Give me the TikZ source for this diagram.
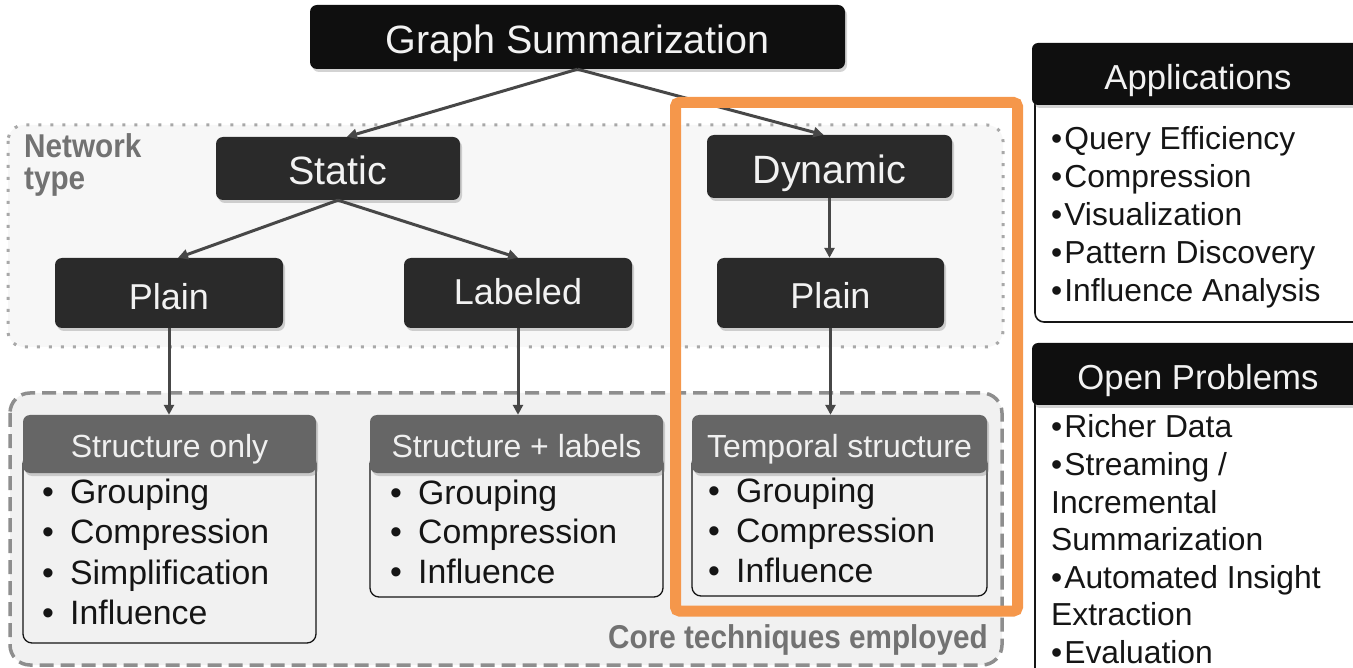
\documentclass[tikz,border=0pt]{standalone}
\usepackage{fontspec}
\setmainfont{Liberation Sans}
\newfontfamily\condfont[FakeStretch=0.9]{Liberation Sans}
\usetikzlibrary{shadows,arrows.meta,calc}

\definecolor{boxdark}{HTML}{2A2A2A}
\definecolor{boxblack}{HTML}{0F0F0F}
\definecolor{hdrgray}{HTML}{666666}
\definecolor{arrowgray}{HTML}{474747}
\definecolor{labelgray}{HTML}{727272}
\definecolor{dotgray}{HTML}{A8A8A8}
\definecolor{dashgray}{HTML}{8E8E8E}
\definecolor{netfill}{HTML}{F7F7F7}
\definecolor{corefill}{HTML}{F1F1F1}
\definecolor{hilite}{HTML}{F5974B}
\definecolor{inktext}{HTML}{151515}

\newcommand\blt{\makebox[28pt][l]{•}}
\newcommand\sblt{•\kern2pt}

\begin{document}
\begin{tikzpicture}[x=1pt,y=-1pt,
  softshadow/.style={drop shadow={opacity=0.35,shadow xshift=2pt,shadow yshift=-3pt}},
  darkbox/.style={rounded corners=7pt, fill=boxdark, text=white!95!black, inner sep=0pt,
    text depth=0pt, font=\fontsize{36}{40}\selectfont, softshadow},
  bigbox/.style={darkbox, font=\fontsize{39.5}{44}\selectfont},
  topbox/.style={bigbox, fill=boxblack},
  hdrbox/.style={rounded corners=7pt, fill=hdrgray, text=white!94!black, inner sep=0pt,
    minimum width=293pt, minimum height=58pt, text height=27.9pt, text depth=0pt,
    font=\fontsize{32}{36}\selectfont, softshadow},
  sidehdr/.style={rounded corners=6pt, fill=boxblack, text=white!95!black, inner sep=0pt,
    minimum width=332pt, minimum height=62pt, text height=31.8pt, text depth=0pt,
    font=\fontsize{34.7}{38}\selectfont, softshadow},
  bodybox/.style={draw=inktext, line width=1.3pt, rounded corners=9pt},
  item/.style={anchor=base west, inner sep=0pt, text=inktext, font=\fontsize{33.8}{40}\selectfont},
  sideitem/.style={anchor=base west, inner sep=0pt, text=inktext, font=\fontsize{31.8}{37}\selectfont},
  conn/.style={draw=arrowgray, line width=3pt, -{Triangle[length=10pt,width=10pt]}},
  regionlabel/.style={inner sep=0pt, text=labelgray, font=\condfont\bfseries\fontsize{33}{32}\selectfont},
  netregion/.style={draw=dotgray, fill=netfill, line width=3pt, dash pattern=on 3pt off 9pt, rounded corners=16pt},
  coreregion/.style={draw=dashgray, fill=corefill, line width=3.5pt, dash pattern=on 14pt off 7pt, rounded corners=20pt},
  highlight/.style={draw=hilite, line width=11pt, rounded corners=4pt}
]
\clip (0,0) rectangle (1353,668);
\useasboundingbox (0,0) rectangle (1353,668);

% grouping regions
\draw[netregion] (8,125) rectangle (1003,347);
\draw[coreregion] (10,393) rectangle (1002,665);
\node[regionlabel, anchor=north west, align=left] (nettype) at (24,133) {Network\\type};
\node[regionlabel, anchor=base east] (coretech) at (988,648) {Core techniques employed};

% hierarchy boxes
\node[topbox, minimum width=535pt, minimum height=64pt, text height=33.3pt] (gs) at (577.5,37) {Graph Summarization};
\node[bigbox, minimum width=244pt, minimum height=63pt, text height=31.3pt] (static) at (338,168.5) {Static};
\node[bigbox, minimum width=245pt, minimum height=63pt, text height=34.3pt] (dynamic) at (829.5,166.5) {Dynamic};
\node[darkbox, minimum width=228pt, minimum height=70pt, text height=32.8pt] (plainL) at (169,293) {Plain};
\node[darkbox, minimum width=228pt, minimum height=70pt, text height=23.8pt] (labeled) at (518,293) {Labeled};
\node[darkbox, minimum width=227pt, minimum height=70pt, text height=30.8pt] (plainR) at (830.5,293) {Plain};

% technique cards
\draw[bodybox] (23,455) rectangle (316,643);
\draw[bodybox] (370,455) rectangle (663,597);
\draw[bodybox] (692,455) rectangle (987,596);
\node[hdrbox] (soh) at (169.5,444) {Structure only};
\node[hdrbox] (slh) at (516.5,444) {Structure + labels};
\node[hdrbox, minimum width=295pt] (tsh) at (839.5,444) {Temporal structure};

\foreach \t [count=\i] in {Grouping,Compression,Simplification,Influence}
  \node[item] (so\i) at (42,{503+40.5*(\i-1)}) {\blt\t};
\foreach \t [count=\i] in {Grouping,Compression,Influence}
  \node[item] (sl\i) at (390,{504+39.5*(\i-1)}) {\blt\t};
\foreach \t [count=\i] in {Grouping,Compression,Influence}
  \node[item] (ts\i) at (708,{502+40*(\i-1)}) {\blt\t};

% connectors
\draw[conn] (gs.south) -- ([xshift=9pt]static.north);
\draw[conn] (gs.south) -- ([xshift=-6pt]dynamic.north);
\draw[conn] (static.south) -- ([xshift=9pt]plainL.north);
\draw[conn] (static.south) -- (labeled.north);
\draw[conn] (dynamic.south) -- (dynamic.south |- plainR.north);
\draw[conn] (plainL.south) -- (plainL.south |- soh.north);
\draw[conn] (labeled.south) -- (labeled.south |- slh.north);
\draw[conn] (plainR.south) -- (plainR.south |- tsh.north);

% highlight frame around the dynamic branch
\draw[highlight] (675.5,102.5) rectangle (1017.5,611);

% side panels
\draw[bodybox, line width=1.6pt] (1035,95) rectangle (1380,322);
\node[sidehdr] (apph) at (1198,74) {Applications};
\foreach \t [count=\i] in {Query Efficiency,Compression,Visualization,Pattern Discovery,Influence Analysis}
  \node[sideitem] (app\i) at (1051,{150+38*(\i-1)}) {\sblt\t};

\draw[bodybox, line width=1.6pt] (1035,395) rectangle (1380,720);
\node[sidehdr] (oph) at (1198,374) {Open Problems};
\foreach \t [count=\i] in {\sblt Richer Data,\sblt Streaming /,Incremental,Summarization,\sblt Automated Insight,Extraction,\sblt Evaluation}
  \node[sideitem] (op\i) at (1051,{438+37.5*(\i-1)}) {\t};
\end{tikzpicture}
\end{document}
